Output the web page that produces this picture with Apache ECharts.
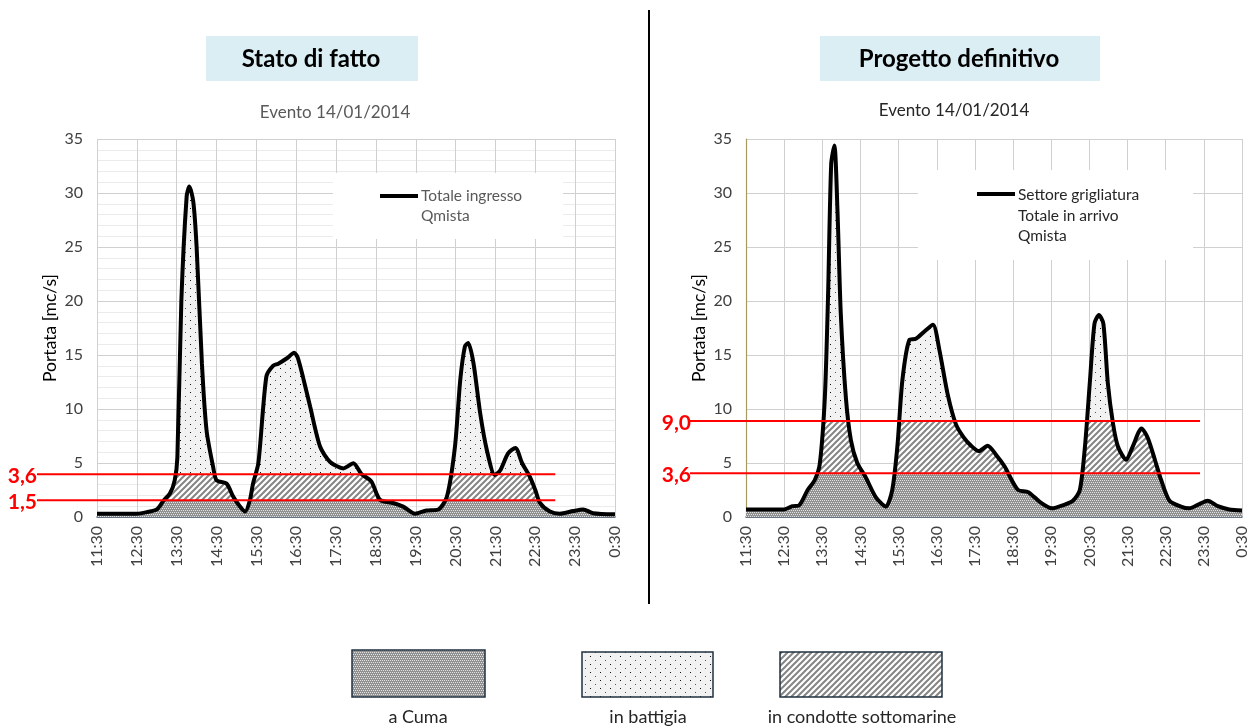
<!DOCTYPE html>
<html><head><meta charset="utf-8">
<script src="https://cdn.jsdelivr.net/npm/echarts@6/dist/echarts.min.js"></script>
<style>html,body{margin:0;padding:0;background:#fff}#c{width:1253px;height:728px}</style>
</head><body><div id="c"></div>
<script>
// ---------------- DATA ----------------
const timeTicks = ['11:30','12:30','13:30','14:30','15:30','16:30','17:30','18:30','19:30','20:30','21:30','22:30','23:30','0:30'];

const leftTimes = ['11:30','12:00','12:30','12:45','13:00','13:10','13:20','13:27','13:31','13:37','13:45','13:49','13:55','14:00','14:08','14:15','14:25','14:30','14:45','14:55','15:05','15:13','15:20','15:25','15:33','15:45','15:55','16:03','16:16','16:27','16:32','16:40','16:51','17:06','17:21','17:41','17:56','18:08','18:23','18:36','18:56','19:11','19:29','19:46','20:04','20:17','20:29','20:37','20:44','20:49','20:57','21:07','21:17','21:29','21:37','21:49','22:00','22:10','22:22','22:30','22:37','22:52','23:07','23:27','23:42','23:57','0:30'];
const leftQ = [0.3,0.3,0.3,0.45,0.7,1.5,2.2,3.4,5.5,20.0,29.7,30.6,29.2,25.0,14.2,8.0,4.6,3.4,3.1,1.9,1.0,0.5,1.5,3.1,5.0,13.0,14.0,14.2,14.7,15.2,14.8,13.0,10.2,6.5,5.1,4.5,4.97,4.0,3.3,1.6,1.3,0.96,0.3,0.6,0.7,1.9,6.5,12.7,15.8,16.1,14.2,9.6,6.2,3.9,4.3,5.9,6.4,5.0,3.7,2.5,1.3,0.5,0.3,0.55,0.7,0.35,0.25];

const rightTimes = ['11:30','12:00','12:30','12:43','12:54','13:07','13:18','13:26','13:34','13:39','13:44','13:49','13:54','13:59','14:07','14:15','14:25','14:38','14:54','15:10','15:20','15:28','15:36','15:47','15:57','16:11','16:24','16:34','16:47','17:00','17:12','17:24','17:36','17:50','18:04','18:17','18:28','18:38','18:54','19:12','19:31','19:49','20:04','20:15','20:23','20:31','20:38','20:45','20:52','20:59','21:07','21:15','21:28','21:38','21:52','22:02','22:13','22:23','22:36','22:54','23:07','23:23','23:36','23:52','0:10','0:30'];
const rightQ = [0.7,0.7,0.7,1.0,1.1,2.5,3.4,4.9,11.1,20.4,32.7,34.4,28.1,18.9,11.1,7.1,5.0,3.7,1.85,0.96,2.5,6.5,12.7,16.4,16.5,17.2,17.8,15.5,11.4,8.6,7.4,6.6,6.1,6.6,5.7,4.66,3.4,2.5,2.3,1.4,0.8,1.1,1.5,2.5,6.5,12.7,17.9,18.7,17.9,12.4,8.7,6.5,5.3,6.5,8.2,7.3,5.3,3.4,1.5,0.96,0.8,1.2,1.5,1.0,0.7,0.6];

// thresholds: drawn level and printed label
const leftThresholds = [1.55, 3.95];
const leftThresholdLabels = ['1,5', '3,6'];
const rightThresholds = [4.05, 8.9];
const rightThresholdLabels = ['3,6', '9,0'];
const thresholdLineEnds = ['23:00', '23:24'];

const chartTitles = ['Stato di fatto', 'Progetto definitivo'];
const subTitles = ['Evento 14/01/2014', 'Evento 14/01/2014'];
const lineLegendTexts = [['Totale ingresso', 'Qmista'], ['Settore grigliatura', 'Totale in arrivo', 'Qmista']];
const areaLegend = ['a Cuma', 'in battigia', 'in condotte sottomarine'];
const yAxisName = 'Portata [mc/s]';

// ---------------- HELPERS ----------------
function toMin(t) {
  const p = t.split(':'); let h = +p[0]; const m = +p[1];
  if (h < 11) h += 24;
  return h * 60 + m - 690;
}
function mkCanvas(w, h, draw) {
  const c = document.createElement('canvas'); c.width = w; c.height = h;
  draw(c.getContext('2d')); return c;
}
const cumaTile = mkCanvas(4, 4, g => {
  g.fillStyle = '#919191'; g.fillRect(0, 0, 4, 4);
  g.fillStyle = '#e2e2e2';
  [[0,0],[2,0],[1,2],[3,2]].forEach(p => g.fillRect(p[0], p[1], 1, 1));
});
const battTile = mkCanvas(10, 8, g => {
  g.fillStyle = '#f2f2f2'; g.fillRect(0, 0, 10, 8);
  g.fillStyle = '#111'; g.fillRect(0, 0, 1, 1);
  g.fillStyle = '#555'; g.fillRect(5, 4, 1, 1);
});
const condTile = mkCanvas(6, 6, g => {
  g.fillStyle = '#ffffff'; g.fillRect(0, 0, 6, 6);
  g.strokeStyle = '#858585'; g.lineWidth = 2;
  g.beginPath();
  g.moveTo(-1, 7); g.lineTo(7, -1);
  g.moveTo(-1, 1); g.lineTo(1, -1);
  g.moveTo(5, 7); g.lineTo(7, 5);
  g.stroke();
});
const patCuma = { image: cumaTile, repeat: 'repeat' };
const patBatt = { image: battTile, repeat: 'repeat' };
const patCond = { image: condTile, repeat: 'repeat' };

const FONT = 'Lato, "Open Sans", sans-serif';
const SMOOTH = 0.25;

function makeSeries(gi, times, q, th) {
  const full = times.map((t, i) => [toMin(t), q[i]]);
  const c2 = times.map((t, i) => [toMin(t), Math.min(q[i], th[1])]);
  const c1 = times.map((t, i) => [toMin(t), Math.min(q[i], th[0])]);
  const base = { type: 'line', xAxisIndex: gi, yAxisIndex: gi, smooth: SMOOTH, symbol: 'none', silent: true, animation: false };
  return [
    Object.assign({}, base, { name: areaLegend[1], data: full, lineStyle: { width: 0 }, areaStyle: { color: patBatt, opacity: 1 }, z: 2 }),
    Object.assign({}, base, { name: areaLegend[2], data: c2, lineStyle: { width: 0 }, areaStyle: { color: patCond, opacity: 1 }, z: 3 }),
    Object.assign({}, base, { name: areaLegend[0], data: c1, lineStyle: { width: 0 }, areaStyle: { color: patCuma, opacity: 1 }, z: 4 }),
    Object.assign({}, base, { name: 'tot', data: full, lineStyle: { width: 4, color: '#000' }, z: 6 })
  ];
}

function xAxisCfg(gi) {
  return {
    type: 'value', gridIndex: gi, min: 0, max: 780, interval: 60,
    axisLine: { show: true, onZero: false, lineStyle: { color: '#44546a', width: 1.5 } },
    axisTick: { show: false },
    splitLine: { show: true, lineStyle: { color: '#d0d0d0', width: 1 } },
    axisLabel: {
      rotate: 90, margin: 9, color: '#404040', fontSize: 16, fontFamily: FONT,
      showMinLabel: true, showMaxLabel: true, hideOverlap: false,
      formatter: v => timeTicks[Math.round(v / 60)]
    }
  };
}
function yAxisCfg(gi, minor) {
  return {
    type: 'value', gridIndex: gi, min: 0, max: 35, interval: 5,
    name: yAxisName, nameLocation: 'middle', nameGap: 38, nameRotate: 90,
    nameTextStyle: { color: '#000', fontSize: 17.5, fontFamily: FONT },
    axisLine: gi === 1 ? { show: true, lineStyle: { color: '#a69a62', width: 1.2 } } : { show: false },
    axisTick: { show: false },
    splitLine: { show: true, lineStyle: { color: '#d0d0d0', width: 1 } },
    minorTick: { show: false, splitNumber: 5 },
    minorSplitLine: { show: minor, lineStyle: { color: '#ebebeb', width: 1 } },
    axisLabel: { margin: 14, color: '#404040', fontSize: 16, fontFamily: FONT }
  };
}

const chart = echarts.init(document.getElementById('c'), null, { renderer: 'canvas' });
chart.setOption({
  animation: false,
  backgroundColor: '#ffffff',
  grid: [
    { left: 97, top: 139, width: 518, height: 378, outerBoundsMode: 'none', containLabel: false },
    { left: 746, top: 139, width: 496, height: 378, outerBoundsMode: 'none', containLabel: false }
  ],
  xAxis: [xAxisCfg(0), xAxisCfg(1)],
  yAxis: [yAxisCfg(0, true), yAxisCfg(1, false)],
  series: makeSeries(0, leftTimes, leftQ, leftThresholds).concat(makeSeries(1, rightTimes, rightQ, rightThresholds))
});

// --------------- decorations (graphic) ---------------
const g = [];
// divider
g.push({ type: 'line', shape: { x1: 649, y1: 10, x2: 649, y2: 604 }, style: { stroke: '#000', lineWidth: 2 }, z: 10 });
// title boxes
[[206, 212, chartTitles[0], 311], [820, 280, chartTitles[1], 959]].forEach(b => {
  g.push({ type: 'rect', shape: { x: b[0], y: 36, width: b[1], height: 45 }, style: { fill: '#dbeef3' }, z: 10 });
  g.push({ type: 'text', x: b[3], y: 59, style: { text: b[2], fill: '#000', font: 'bold 24px ' + FONT, textAlign: 'center', textVerticalAlign: 'middle' }, z: 11 });
});
// subtitles
g.push({ type: 'text', x: 335, y: 113, style: { text: subTitles[0], fill: '#595959', font: '17px ' + FONT, textAlign: 'center', textVerticalAlign: 'middle' }, z: 11 });
g.push({ type: 'text', x: 954, y: 111, style: { text: subTitles[1], fill: '#262626', font: '17px ' + FONT, textAlign: 'center', textVerticalAlign: 'middle' }, z: 11 });

// in-chart line legends
g.push({ type: 'rect', shape: { x: 333, y: 173, width: 230, height: 66 }, style: { fill: '#fff' }, z: 10 });
g.push({ type: 'line', shape: { x1: 380, y1: 196, x2: 418, y2: 196 }, style: { stroke: '#000', lineWidth: 4 }, z: 11 });
lineLegendTexts[0].forEach((t, i) => g.push({ type: 'text', x: 421, y: 196 + i * 20, style: { text: t, fill: '#595959', font: '15.5px ' + FONT, textVerticalAlign: 'middle' }, z: 11 }));
g.push({ type: 'rect', shape: { x: 918, y: 170, width: 275, height: 90 }, style: { fill: '#fff' }, z: 10 });
g.push({ type: 'line', shape: { x1: 977, y1: 194, x2: 1015, y2: 194 }, style: { stroke: '#000', lineWidth: 4 }, z: 11 });
lineLegendTexts[1].forEach((t, i) => g.push({ type: 'text', x: 1018, y: 195 + i * 20.5, style: { text: t, fill: '#262626', font: '15.5px ' + FONT, textVerticalAlign: 'middle' }, z: 11 }));

// threshold red lines + labels
function addThresholds(gi, th, labels, endTime, xStart, labelX) {
  const xEnd = chart.convertToPixel({ gridIndex: gi }, [toMin(endTime), 0])[0];
  th.forEach((v, i) => {
    const y = chart.convertToPixel({ gridIndex: gi }, [0, v])[1];
    g.push({ type: 'line', shape: { x1: xStart, y1: y, x2: xEnd, y2: y }, style: { stroke: '#ff0000', lineWidth: 2 }, z: 12 });
    g.push({ type: 'text', x: labelX, y: y + 2, style: { text: labels[i], fill: '#ff0000', font: 'bold 21px ' + FONT, textAlign: 'right', textVerticalAlign: 'middle' }, z: 12 });
  });
}
addThresholds(0, leftThresholds, leftThresholdLabels, thresholdLineEnds[0], 37, 37);
addThresholds(1, rightThresholds, rightThresholdLabels, thresholdLineEnds[1], 690, 691);

// bottom legend
[[352, 650, 133, 47, patCuma, 418], [582, 652, 131, 45, patBatt, 648], [780, 652, 162, 45, patCond, 862]].forEach((b, i) => {
  g.push({ type: 'rect', shape: { x: b[0], y: b[1], width: b[2], height: b[3] }, style: { fill: b[4], stroke: '#203040', lineWidth: 1.5 }, z: 10 });
  g.push({ type: 'text', x: b[5], y: 717, style: { text: areaLegend[i], fill: '#262626', font: '18px ' + FONT, textAlign: 'center', textVerticalAlign: 'middle' }, z: 11 });
});

chart.setOption({ graphic: { elements: g } });
</script>
</body></html>
